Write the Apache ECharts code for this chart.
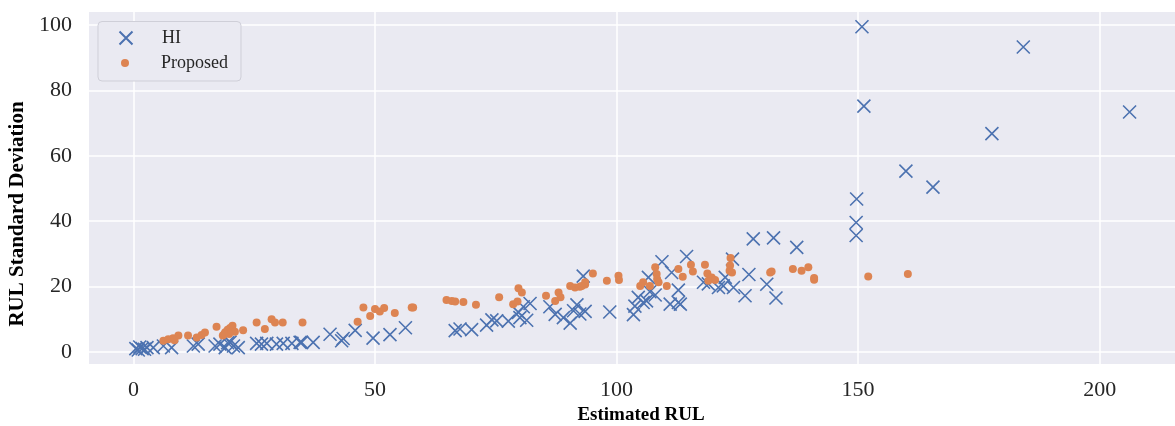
<!DOCTYPE html>
<html>
<head>
<meta charset="utf-8">
<script src="https://cdn.jsdelivr.net/npm/echarts@6/dist/echarts.min.js"></script>
<style>
  html, body { margin: 0; padding: 0; background: #ffffff; }
  #chart { width: 1175px; height: 426px; }
</style>
</head>
<body>
<div id="chart"></div>
<script>
// Estimated RUL vs. standard deviation of the RUL estimate, [estimated RUL, std]
const hiPoints = [
  [0.5, 1.0], [1.0, 0.6], [1.3, 1.5], [1.8, 1.0], [2.3, 0.8], [2.8, 1.3],
  [4.1, 1.3], [6.2, 1.8], [7.9, 1.3],
  [12.4, 1.8], [13.4, 2.4],
  [16.9, 1.8], [17.9, 2.4], [19.0, 1.3], [20.0, 3.0], [20.7, 1.8], [21.7, 1.3], [19.5, 2.8],
  [25.5, 2.6], [26.5, 2.4], [27.6, 2.6], [29.6, 2.4], [31.0, 2.6], [32.8, 2.6], [34.5, 2.9], [34.8, 2.9], [37.2, 2.9],
  [40.7, 5.4], [43.1, 3.4], [43.4, 4.1], [45.9, 6.6],
  [49.6, 4.2], [53.1, 5.3], [56.3, 7.4],
  [66.6, 6.5], [67.6, 7.0], [70.0, 6.8], [73.1, 8.2], [74.2, 9.8], [75.2, 9.5], [77.6, 9.4],
  [79.7, 12.1], [80.0, 10.5], [80.7, 13.8], [81.4, 9.7], [82.1, 14.8],
  [86.2, 13.8], [87.3, 11.5], [89.0, 10.5], [90.4, 8.8], [91.1, 12.6], [91.8, 14.4], [92.4, 11.6], [93.5, 12.4], [93.1, 23.2],
  [98.6, 12.2],
  [103.5, 11.4], [103.8, 14.0], [104.5, 16.7], [105.5, 15.1], [106.2, 15.6], [106.9, 18.4], [106.6, 22.8], [108.0, 17.4], [109.4, 27.6],
  [111.1, 14.6], [111.4, 24.3], [112.8, 18.9], [112.8, 15.1], [113.2, 14.6], [114.5, 29.2],
  [118.0, 21.3], [119.0, 20.8], [121.1, 19.7], [122.1, 20.2], [122.5, 22.8], [124.0, 28.4], [124.2, 19.7],
  [126.6, 17.2], [127.4, 23.7], [128.3, 34.6], [131.1, 20.7], [132.5, 34.9], [133.0, 16.5], [137.3, 32.0],
  [149.6, 35.6], [149.6, 39.6], [149.7, 46.8], [150.8, 99.5], [151.2, 75.2], [159.9, 55.3], [165.5, 50.4],
  [177.7, 66.8], [184.2, 93.3], [206.2, 73.4]
];

const proposedPoints = [
  [6.2, 3.4], [7.2, 3.9], [8.2, 4.2], [9.3, 5.0], [8.5, 3.6],
  [11.3, 5.0], [13.1, 4.4], [14.1, 5.2], [14.8, 5.9],
  [17.2, 7.7], [18.5, 5.0], [19.0, 6.0], [19.5, 6.8], [20.0, 7.3], [20.5, 8.0], [21.0, 6.2], [19.8, 5.5], [18.8, 5.5],
  [22.7, 6.6],
  [25.5, 9.0], [27.2, 7.0], [28.6, 10.0], [29.3, 9.0], [30.9, 9.0], [35.0, 9.0],
  [46.4, 9.2], [47.6, 13.6], [49.0, 11.0], [50.0, 13.1], [51.0, 12.4], [51.9, 13.4], [54.1, 11.9], [57.6, 13.6], [57.9, 13.6],
  [64.8, 15.9], [65.9, 15.6], [66.6, 15.4], [68.3, 15.3], [70.9, 14.4], [75.7, 16.7], [78.6, 14.6], [79.5, 15.4], [79.7, 19.5], [80.4, 18.2],
  [85.4, 17.2], [87.3, 15.6], [88.0, 18.2], [88.4, 16.7], [90.4, 20.2], [91.4, 19.7], [92.4, 19.9], [93.5, 20.6], [93.5, 21.3], [92.8, 20.2], [95.1, 24.0],
  [98.0, 21.8], [100.4, 23.3], [100.5, 22.0],
  [104.9, 20.2], [105.5, 21.3], [106.9, 20.2], [108.0, 25.9], [108.3, 23.8], [108.4, 22.3], [108.7, 21.3], [110.4, 20.2],
  [112.8, 25.4], [113.7, 23.0], [115.4, 26.7], [115.8, 24.6],
  [118.3, 26.7], [118.8, 24.0], [119.0, 21.8], [119.7, 22.8], [120.4, 22.0],
  [123.4, 24.8], [123.5, 26.4], [123.6, 28.7], [123.9, 24.3],
  [131.8, 24.3], [132.1, 24.6], [136.5, 25.4], [138.3, 24.8], [139.7, 25.9], [140.9, 22.1], [140.9, 22.6],
  [152.1, 23.1], [160.3, 23.8]
];

const seriesNames = ['HI', 'Proposed'];
const xAxisTitle = 'Estimated RUL';
const yAxisTitle = 'RUL Standard Deviation';

const SERIF = '"Liberation Serif", "Times New Roman", "DejaVu Serif", serif';
const BLUE = '#4C72B0';
const ORANGE = '#DD8452';
const CROSS = 'path://M0,0L10,10M10,0L0,10';

const chart = echarts.init(document.getElementById('chart'), null, { renderer: 'canvas' });

chart.setOption({
  backgroundColor: '#ffffff',
  animation: false,
  grid: {
    left: 89, right: 0, top: 12, bottom: 62,
    outerBoundsMode: 'none', containLabel: false,
    show: true, backgroundColor: '#EAEAF2', borderWidth: 0
  },
  // legend frame, drawn above the grid lines
  graphic: [{
    type: 'rect', z: 1,
    shape: { x: 98, y: 21.5, width: 143, height: 59.5, r: 4 },
    style: { fill: '#EAEAF2', stroke: '#CFCFD8', lineWidth: 1 }
  }],
  legend: [
    {
      data: [seriesNames[0]], left: 118.5, top: 29, padding: 0,
      itemWidth: 62, itemHeight: 13,
      textStyle: { fontFamily: SERIF, fontSize: 18, color: '#262626' }
    },
    {
      data: [seriesNames[1]], left: 121, top: 54, padding: 0,
      itemWidth: 62, itemHeight: 8,
      textStyle: { fontFamily: SERIF, fontSize: 18, color: '#262626' }
    }
  ],
  xAxis: {
    type: 'value', min: -9.2, max: 215.6, splitNumber: 5,
    name: xAxisTitle, nameLocation: 'middle', nameGap: 40,
    nameTextStyle: { fontFamily: SERIF, fontSize: 19, fontWeight: 'bold', color: '#000', padding: [0, 0, 0, 18] },
    axisLine: { show: false }, axisTick: { show: false },
    axisLabel: {
      fontFamily: SERIF, fontSize: 22, color: '#262626', margin: 15,
      showMinLabel: false, showMaxLabel: false
    },
    splitLine: { show: true, showMinLine: false, showMaxLine: false, lineStyle: { color: '#ffffff', width: 1.5 } }
  },
  yAxis: {
    type: 'value', min: -3.7, max: 104, splitNumber: 5,
    name: yAxisTitle, nameLocation: 'middle', nameGap: 60, nameRotate: 90,
    nameTextStyle: { fontFamily: SERIF, fontSize: 21, fontWeight: 'bold', color: '#000', padding: [0, 52, 0, 0] },
    axisLine: { show: false }, axisTick: { show: false },
    axisLabel: {
      fontFamily: SERIF, fontSize: 22, color: '#262626', margin: 17,
      showMinLabel: false, showMaxLabel: false
    },
    splitLine: { show: true, showMinLine: false, showMaxLine: false, lineStyle: { color: '#ffffff', width: 1.5 } }
  },
  series: [
    {
      name: seriesNames[0], type: 'scatter', data: hiPoints,
      symbol: CROSS, symbolSize: 13, symbolKeepAspect: true,
      itemStyle: { color: 'rgba(0,0,0,0)', borderColor: BLUE, borderWidth: 1.6, opacity: 1 },
      z: 3
    },
    {
      name: seriesNames[1], type: 'scatter', data: proposedPoints,
      symbol: 'circle', symbolSize: 8,
      itemStyle: { color: ORANGE, opacity: 1 },
      z: 4
    }
  ]
});
</script>
</body>
</html>
